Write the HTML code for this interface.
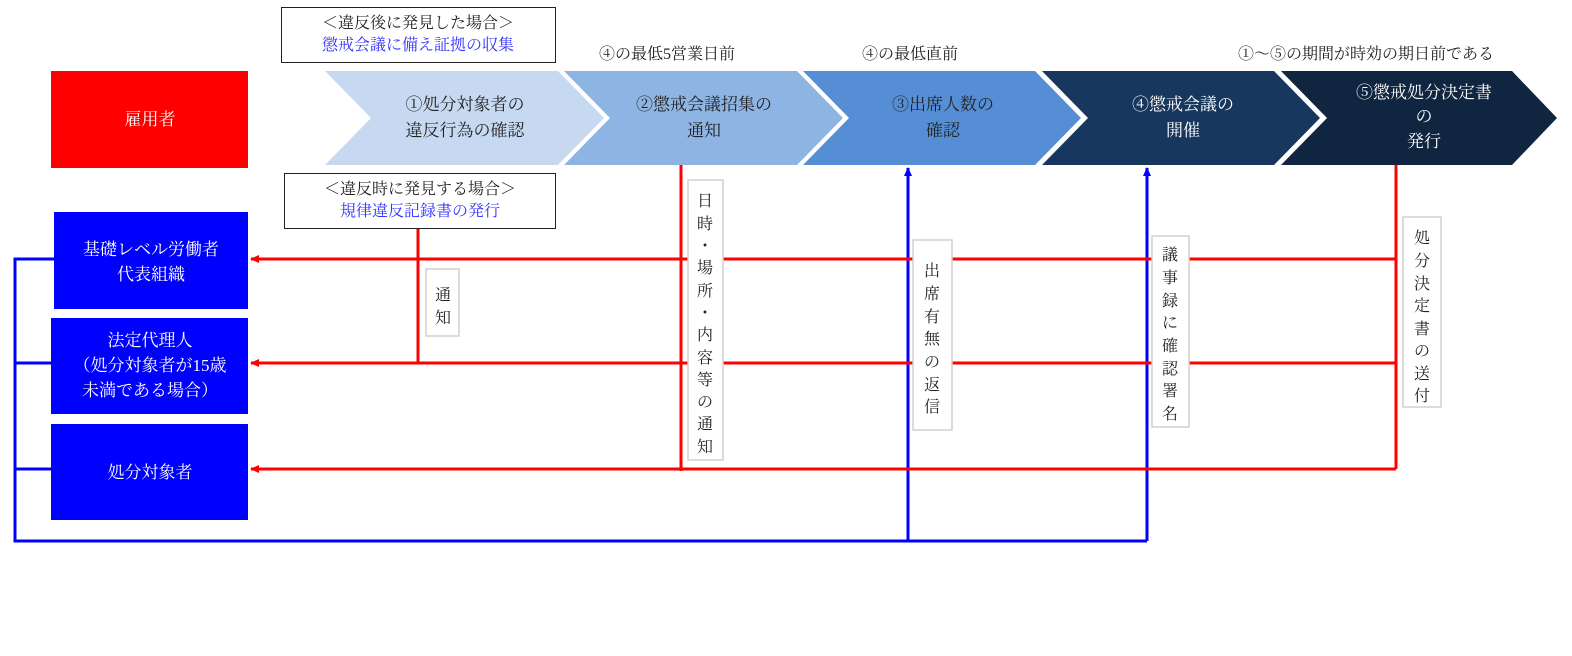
<!DOCTYPE html>
<html><head><meta charset="utf-8"><style>
html,body{margin:0;padding:0;background:#fff;}
svg{display:block;}
text{font-family:"Liberation Serif","Noto Serif CJK JP","Noto Serif CJK SC",serif;font-size:16px;}
.c{font-size:17px;}
</style></head><body>
<svg width="1572" height="656" viewBox="0 0 1572 656" xmlns="http://www.w3.org/2000/svg">
<defs>
<marker id="ar" markerWidth="10" markerHeight="10" refX="8" refY="5" orient="auto" markerUnits="userSpaceOnUse"><path d="M0,1 L9,5 L0,9 z" fill="#f00"/></marker>
<marker id="ab" markerWidth="10" markerHeight="10" refX="8" refY="5" orient="auto" markerUnits="userSpaceOnUse"><path d="M0,1 L9,5 L0,9 z" fill="#00f"/></marker>
</defs>
<polygon points="325,71 558,71 604,118 558,165 325,165 371,118" fill="#c6d9f1"/>
<polygon points="564,71 797,71 843,118 797,165 564,165 610,118" fill="#8eb4e3"/>
<polygon points="803,71 1035,71 1081,118 1035,165 803,165 849,118" fill="#558ed5"/>
<polygon points="1042,71 1274,71 1320,118 1274,165 1042,165 1088,118" fill="#17375e"/>
<polygon points="1281,71 1512,71 1557,118 1512,165 1281,165 1327,118" fill="#10253f"/>
<g text-anchor="middle" class="c">
<text class="c" x="465" y="110" fill="#222">①処分対象者の</text>
<text class="c" x="465" y="136" fill="#222">違反行為の確認</text>
<text class="c" x="704" y="110" fill="#222">②懲戒会議招集の</text>
<text class="c" x="704" y="136" fill="#222">通知</text>
<text class="c" x="943" y="110" fill="#222">③出席人数の</text>
<text class="c" x="943" y="136" fill="#222">確認</text>
<text class="c" x="1183" y="110" fill="#fff">④懲戒会議の</text>
<text class="c" x="1183" y="136" fill="#fff">開催</text>
<text class="c" x="1424" y="98" fill="#fff">⑤懲戒処分決定書</text>
<text class="c" x="1424" y="122" fill="#fff">の</text>
<text class="c" x="1424" y="147" fill="#fff">発行</text>
</g>
<g text-anchor="middle">
<text x="667" y="59" fill="#222">④の最低5営業日前</text>
<text x="910" y="59" fill="#222">④の最低直前</text>
<text x="1366" y="59" fill="#222">①〜⑤の期間が時効の期日前である</text>
</g>
<rect x="51" y="71" width="197" height="97" fill="#f00"/>
<rect x="54" y="212" width="194" height="97" fill="#00f"/>
<rect x="51" y="318" width="197" height="96" fill="#00f"/>
<rect x="51" y="424" width="197" height="96" fill="#00f"/>
<g text-anchor="middle" fill="#fff">
<text class="c" x="150" y="125">雇用者</text>
<text class="c" x="151" y="255">基礎レベル労働者</text>
<text class="c" x="151" y="280">代表組織</text>
<text class="c" x="150" y="346">法定代理人</text>
<text class="c" x="150" y="371">（処分対象者が15歳</text>
<text class="c" x="150" y="396">未満である場合）</text>
<text class="c" x="150" y="478">処分対象者</text>
</g>
<rect x="281.5" y="7.5" width="274" height="55" fill="#fff" stroke="#222"/>
<text x="418" y="28" text-anchor="middle" fill="#222">＜違反後に発見した場合＞</text>
<text x="418" y="50" text-anchor="middle" fill="#33f">懲戒会議に備え証拠の収集</text>
<rect x="284.5" y="173.5" width="271" height="55" fill="#fff" stroke="#222"/>
<text x="420" y="194" text-anchor="middle" fill="#222">＜違反時に発見する場合＞</text>
<text x="420" y="216" text-anchor="middle" fill="#33f">規律違反記録書の発行</text>
<g stroke="#00f" stroke-width="3" fill="none">
<polyline points="54,259 15,259 15,541 1147,541"/>
<line x1="15" y1="363" x2="51" y2="363"/>
<line x1="15" y1="469" x2="51" y2="469"/>
<line x1="908" y1="541" x2="908" y2="168" marker-end="url(#ab)"/>
<line x1="1147" y1="541" x2="1147" y2="168" marker-end="url(#ab)"/>
</g>
<g stroke="#f00" stroke-width="3" fill="none">
<line x1="418" y1="229" x2="418" y2="364"/>
<line x1="681" y1="165" x2="681" y2="471"/>
<polyline points="1396,165 1396,469"/>
<line x1="1396" y1="259" x2="251" y2="259" marker-end="url(#ar)"/>
<line x1="1396" y1="363" x2="251" y2="363" marker-end="url(#ar)"/>
<line x1="1396" y1="469" x2="251" y2="469" marker-end="url(#ar)"/>
</g>
<g fill="#fff" stroke="#d0d0d0" stroke-width="1.5">
<rect x="426" y="269" width="33" height="67"/>
<rect x="688" y="180" width="35" height="280"/>
<rect x="913" y="240" width="39" height="190"/>
<rect x="1152" y="236" width="37" height="191"/>
<rect x="1403" y="217" width="38" height="190"/>
</g>
<g text-anchor="middle" fill="#222">
<text x="443" y="300">通</text><text x="443" y="323">知</text>
<text x="705" y="206">日</text><text x="705" y="229">時</text><text x="705" y="251">・</text><text x="705" y="273">場</text><text x="705" y="296">所</text><text x="705" y="318">・</text><text x="705" y="340">内</text><text x="705" y="363">容</text><text x="705" y="385">等</text><text x="705" y="407">の</text><text x="705" y="429">通</text><text x="705" y="452">知</text>
<text x="932" y="276">出</text><text x="932" y="299">席</text><text x="932" y="322">有</text><text x="932" y="344">無</text><text x="932" y="367">の</text><text x="932" y="390">返</text><text x="932" y="412">信</text>
<text x="1170" y="260">議</text><text x="1170" y="283">事</text><text x="1170" y="306">録</text><text x="1170" y="328">に</text><text x="1170" y="351">確</text><text x="1170" y="374">認</text><text x="1170" y="396">署</text><text x="1170" y="419">名</text>
<text x="1422" y="243">処</text><text x="1422" y="266">分</text><text x="1422" y="289">決</text><text x="1422" y="311">定</text><text x="1422" y="334">書</text><text x="1422" y="356">の</text><text x="1422" y="379">送</text><text x="1422" y="401">付</text>
</g>
</svg>
</body></html>
